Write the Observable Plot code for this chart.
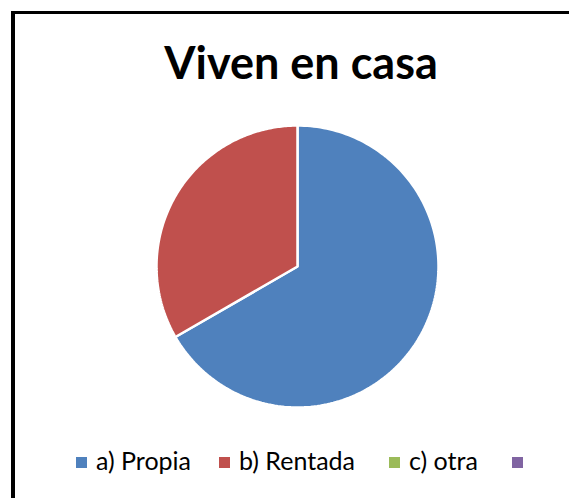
<!DOCTYPE html>
<html>
<head>
<meta charset="utf-8">
<script src="https://cdn.jsdelivr.net/npm/d3@7"></script>
<script src="https://cdn.jsdelivr.net/npm/@observablehq/plot@0.6"></script>
<style>
html, body { margin: 0; padding: 0; background: #fff; overflow: hidden; width: 569px; height: 498px; }
#chart { position: absolute; left: 0; top: 0; }
#frame { position: absolute; left: 11px; top: 11px; width: 700px; height: 600px; border-left: 4px solid #000; border-top: 3px solid #000; pointer-events: none; }
#title { position: absolute; left: 0; top: 40px; width: 602px; text-align: center; font-family: Lato, sans-serif; font-weight: bold; font-size: 45px; line-height: 1; color: #000; white-space: nowrap; }
#legend { position: absolute; left: 0; top: 447px; width: 569px; height: 30px; }
#legend .lg-swatches { font-family: Lato, sans-serif !important; font-size: 25px !important; line-height: 26px !important; color: #000; margin: 0 !important; white-space: nowrap; position: relative; height: 26px; }
#legend .lg-swatch { margin: 0 !important; display: inline-flex; align-items: center; position: absolute; top: 0; height: 26px; }
#legend .lg-swatch > svg { margin-right: 9px !important; position: relative; top: 2px; }
</style>
</head>
<body>
<div id="chart"></div>
<div id="frame"></div>
<div id="title">Viven en casa</div>
<div id="legend"></div>
<script>
const categories = ["a) Propia", "b) Rentada", "c) otra", ""];
const values = [20, 10, 0, 0];
const colors = ["#4F81BD", "#C0504D", "#9BBB59", "#8064A2"];

const table = categories.map((c, i) => ({key: c, value: values[i]}));
const arcs = d3.pie().sort(null).value(d => d.value)(table);

// polygon outline of each slice in unit-circle data coordinates
const points = [];
arcs.filter(a => a.data.value > 0).forEach(a => {
  points.push({key: a.data.key, x: 0, y: 0});
  const n = 180;
  for (let k = 0; k <= n; k++) {
    const t = a.startAngle + (a.endAngle - a.startAngle) * k / n;
    points.push({key: a.data.key, x: Math.sin(t), y: Math.cos(t)});
  }
});

const colorScale = {type: "categorical", domain: categories, range: colors};

const plot = Plot.plot({
  width: 569,
  height: 498,
  margin: 0,
  style: {background: "transparent"},
  x: {domain: [-1, 1], range: [156, 438], axis: null},
  y: {domain: [-1, 1], range: [407, 125], axis: null},
  color: colorScale,
  marks: [
    Plot.line(points, {x: "x", y: "y", z: "key", fill: "key", stroke: "white", strokeWidth: 2.5, curve: "linear-closed", strokeLinejoin: "miter"})
  ]
});
document.getElementById("chart").appendChild(plot);

const legend = Plot.legend({color: colorScale, swatchSize: 11, className: "lg"});
document.getElementById("legend").appendChild(legend);
const swatchLeft = [76, 219, 389, 512];
legend.querySelectorAll(".lg-swatch").forEach((el, i) => { el.style.left = swatchLeft[i] + "px"; });
</script>
</body>
</html>
